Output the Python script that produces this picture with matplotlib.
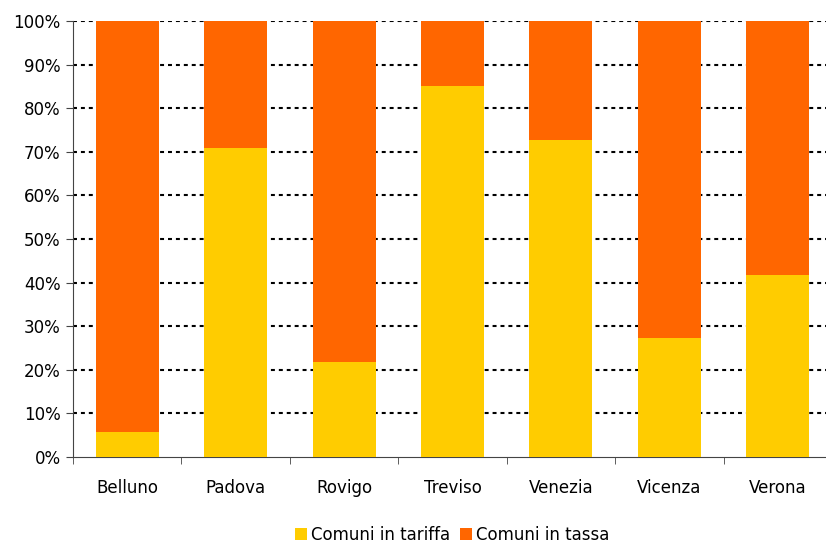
import matplotlib.pyplot as plt
import numpy as np

provinces = ["Belluno", "Padova", "Rovigo", "Treviso", "Venezia", "Vicenza", "Verona"]
tariffa = [5.7, 70.9, 21.8, 85.1, 72.7, 27.3, 41.7]
tassa = [100 - v for v in tariffa]
yticks = list(range(0, 101, 10))

W, H = 826, 543
fig = plt.figure(figsize=(W / 100, H / 100), dpi=100)
ax = fig.add_axes([73 / W, (H - 457) / H, (832 - 73) / W, (457 - 21) / H])

x = np.arange(len(provinces))
ax.bar(x, tariffa, width=0.58, color="#FFCC00", label="Comuni in tariffa", zorder=3)
ax.bar(x, tassa, width=0.58, bottom=tariffa, color="#FF6600", label="Comuni in tassa", zorder=3)

ax.set_xlim(-0.5, len(provinces) - 0.5)
ax.set_ylim(0, 100)
ax.set_yticks(yticks)
ax.set_yticklabels([f"{v}%" for v in yticks], fontsize=12)
ax.yaxis.grid(True, color="black", linestyle=(0, (1.9, 1.9)), linewidth=1.5, zorder=1)
ax.get_ygridlines()[0].set_visible(False)

ax.set_xticks(x)
ax.set_xticklabels(provinces, fontsize=12)
ax.set_xticks(np.arange(-0.5, len(provinces)), minor=True)
ax.tick_params(axis="x", which="major", length=0, pad=16)
ax.tick_params(axis="x", which="minor", length=5, direction="out", color="#444444")
ax.tick_params(axis="y", length=5, direction="out", color="#444444", pad=4)

for s in ["top", "right"]:
    ax.spines[s].set_visible(False)
for s in ["left", "bottom"]:
    ax.spines[s].set_color("#444444")

fig.legend(loc="center", bbox_to_anchor=(452 / W, (H - 535) / H), ncol=2, frameon=False,
           fontsize=12, handlelength=0.75, handleheight=0.75, handletextpad=0.2, columnspacing=0.6)

fig.savefig("out.png", dpi=100)
